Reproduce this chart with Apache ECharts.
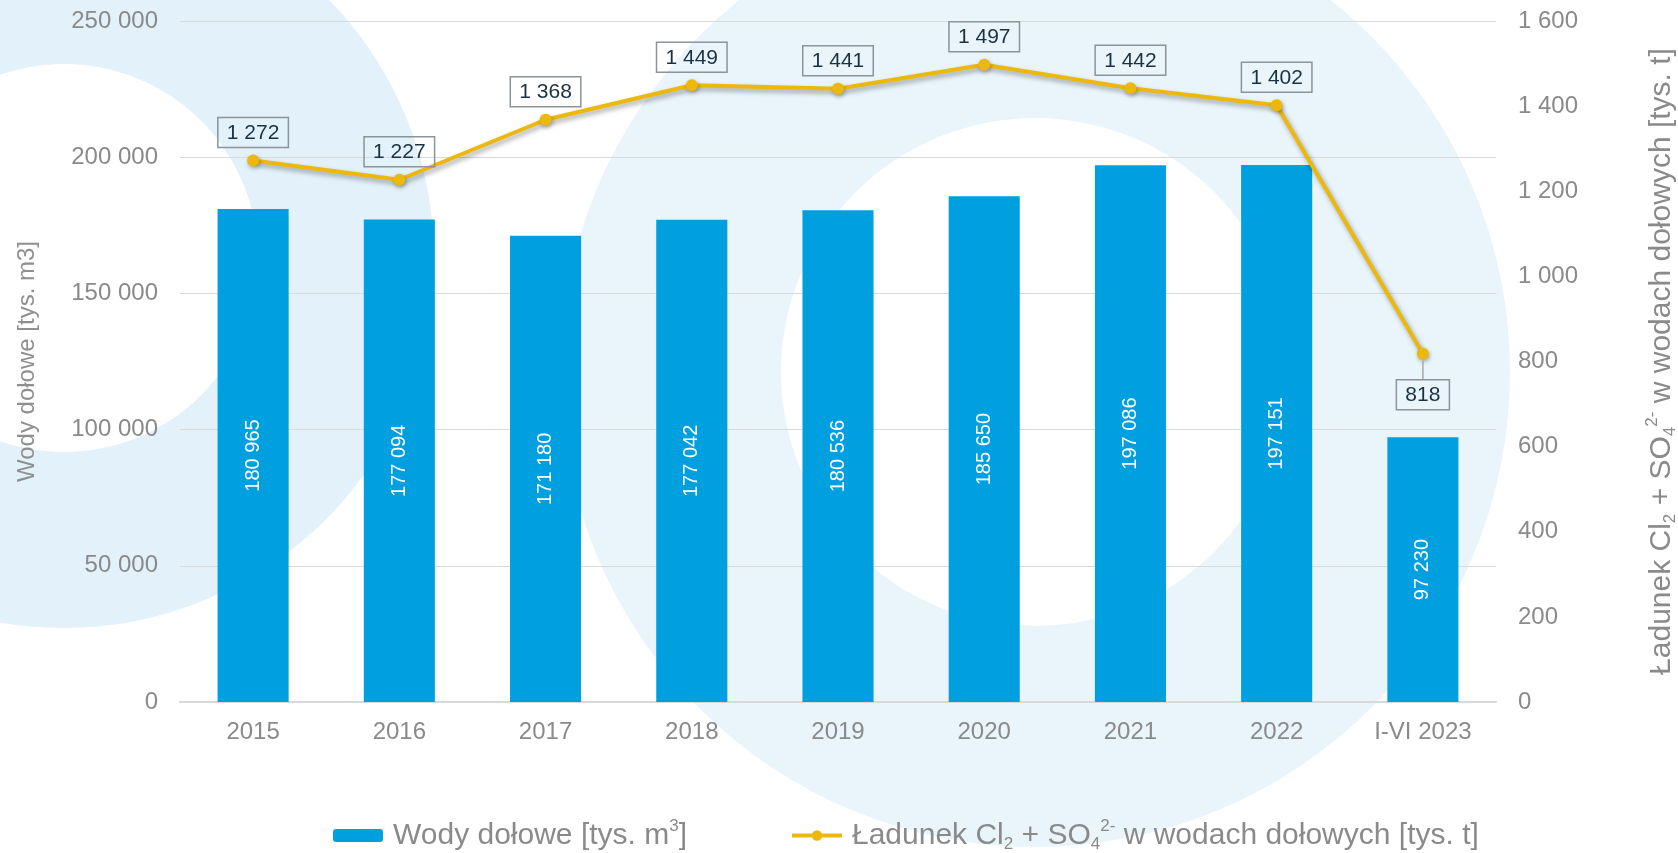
<!DOCTYPE html>
<html>
<head>
<meta charset="utf-8">
<script src="https://cdn.jsdelivr.net/npm/echarts@6/dist/echarts.min.js"></script>
<style>
html,body{margin:0;padding:0;background:#fff;}
#chart{width:1678px;height:853px;}
</style>
</head>
<body>
<div id="chart"></div>
<script>
const categories = ['2015','2016','2017','2018','2019','2020','2021','2022','I-VI 2023'];
const waterValues = [180965,177094,171180,177042,180536,185650,197086,197151,97230];
const loadValues = [1272,1227,1368,1449,1441,1497,1442,1402,818];
const waterName = 'Wody dołowe [tys. m3]';
const loadName = 'Ładunek Cl2 + SO42- w wodach dołowych [tys. t]';

const FONT = '"Liberation Sans", Arial, sans-serif';
const GRAY = '#8a8a8a';
const fmt = v => String(v).replace(/\B(?=(\d{3})+(?!\d))/g, ' ');

const richBig = {
  t:   {fontSize: 30, lineHeight: 35, color: GRAY, fontFamily: FONT},
  sub: {fontSize: 17, lineHeight: 17, verticalAlign: 'bottom', color: GRAY, fontFamily: FONT},
  sup: {fontSize: 17, lineHeight: 17, verticalAlign: 'top', color: GRAY, fontFamily: FONT}
};

const LABEL_TEXT = '#1b3142';
const LABEL_BORDER = '#8a9499';

const chart = echarts.init(document.getElementById('chart'), null, {renderer: 'canvas'});

const loadData = loadValues.map((v, i) => {
  if (i === loadValues.length - 1) {
    return {
      value: v,
      label: {
        position: 'bottom',
        distance: 1,
        borderWidth: 0,
        padding: 0,
        formatter: p => '{ln|}\n{bx|' + fmt(p.value) + '}',
        rich: {
          ln: {width: 1.5, height: 19, backgroundColor: '#a9a9a9'},
          bx: {fontSize: 21, fontFamily: FONT, color: LABEL_TEXT, borderColor: LABEL_BORDER, borderWidth: 1.5, padding: [5, 9, 4, 9]}
        }
      }
    };
  }
  return v;
});

chart.setOption({
  animation: false,
  backgroundColor: '#ffffff',
  textStyle: {fontFamily: FONT},
  graphic: [
    {type: 'ring', silent: true, z: -10, shape: {cx: 64, cy: 258, r: 370, r0: 194}, style: {fill: '#E2F1FA'}},
    {type: 'ring', silent: true, z: -10, shape: {cx: 1035, cy: 372, r: 475, r0: 254}, style: {fill: '#E9F4FB'}}
  ],
  grid: {left: 180, right: 182, top: 21, bottom: 151, containLabel: false, outerBoundsMode: 'none'},
  legend: {
    left: 333,
    top: 818,
    padding: 0,
    itemWidth: 50,
    itemHeight: 13,
    itemGap: 103,
    lineStyle: {width: 4},
    data: [waterName, loadName],
    textStyle: {fontSize: 30, color: GRAY, fontFamily: FONT, padding: [0, 0, 0, 5], rich: richBig},
    formatter: function (name) {
      if (name === waterName) return '{t|Wody dołowe [tys. m}{sup|3}{t|]}';
      return '{t|Ładunek Cl}{sub|2}{t| + SO}{sub|4}{sup|2-}{t| w wodach dołowych [tys. t]}';
    }
  },
  xAxis: {
    type: 'category',
    data: categories,
    axisTick: {show: false},
    axisLine: {lineStyle: {color: '#d9d9d9', width: 2}},
    axisLabel: {fontSize: 24, color: GRAY, margin: 18, fontFamily: FONT}
  },
  yAxis: [
    {
      type: 'value',
      min: 0, max: 250000, interval: 50000,
      name: 'Wody dołowe [tys. m3]',
      nameLocation: 'middle',
      nameGap: 141,
      nameTextStyle: {fontSize: 24, color: '#8f8f8f', fontFamily: FONT},
      axisLine: {show: false},
      axisTick: {show: false},
      splitLine: {lineStyle: {color: '#d9d9d9', width: 1}},
      axisLabel: {fontSize: 24, color: GRAY, margin: 22, fontFamily: FONT, formatter: v => fmt(v)}
    },
    {
      type: 'value',
      min: 0, max: 1600, interval: 200,
      position: 'right',
      name: '{t|Ładunek Cl}{sub|2}{t| + SO}{sub|4}{sup|2-}{t| w wodach dołowych [tys. t]}',
      nameLocation: 'middle',
      nameGap: 148,
      nameTextStyle: {fontSize: 30, color: GRAY, fontFamily: FONT, rich: richBig},
      axisLine: {show: false},
      axisTick: {show: false},
      splitLine: {show: false},
      axisLabel: {fontSize: 24, color: GRAY, margin: 22, fontFamily: FONT, formatter: v => fmt(v)}
    }
  ],
  series: [
    {
      name: waterName,
      type: 'bar',
      yAxisIndex: 0,
      data: waterValues,
      barWidth: '48.6%',
      itemStyle: {color: '#009FE0'},
      label: {
        show: true,
        position: 'inside',
        rotate: 90,
        color: '#ffffff',
        fontSize: 20,
        fontFamily: FONT,
        formatter: p => fmt(p.value)
      },
      z: 2
    },
    {
      name: loadName,
      type: 'line',
      yAxisIndex: 1,
      data: loadData,
      symbol: 'circle',
      symbolSize: 12,
      lineStyle: {color: '#EDB80C', width: 4, shadowColor: 'rgba(0,0,0,0.35)', shadowBlur: 5, shadowOffsetX: 2, shadowOffsetY: 3},
      itemStyle: {color: '#EDB80C', shadowColor: 'rgba(0,0,0,0.3)', shadowBlur: 4, shadowOffsetX: 1, shadowOffsetY: 2},
      label: {
        show: true,
        position: 'top',
        distance: 7,
        fontSize: 21,
        fontFamily: FONT,
        color: LABEL_TEXT,
        borderColor: LABEL_BORDER,
        borderWidth: 1.5,
        padding: [5, 9, 4, 9],
        formatter: p => fmt(p.value)
      },
      z: 5
    }
  ]
});
</script>
</body>
</html>
